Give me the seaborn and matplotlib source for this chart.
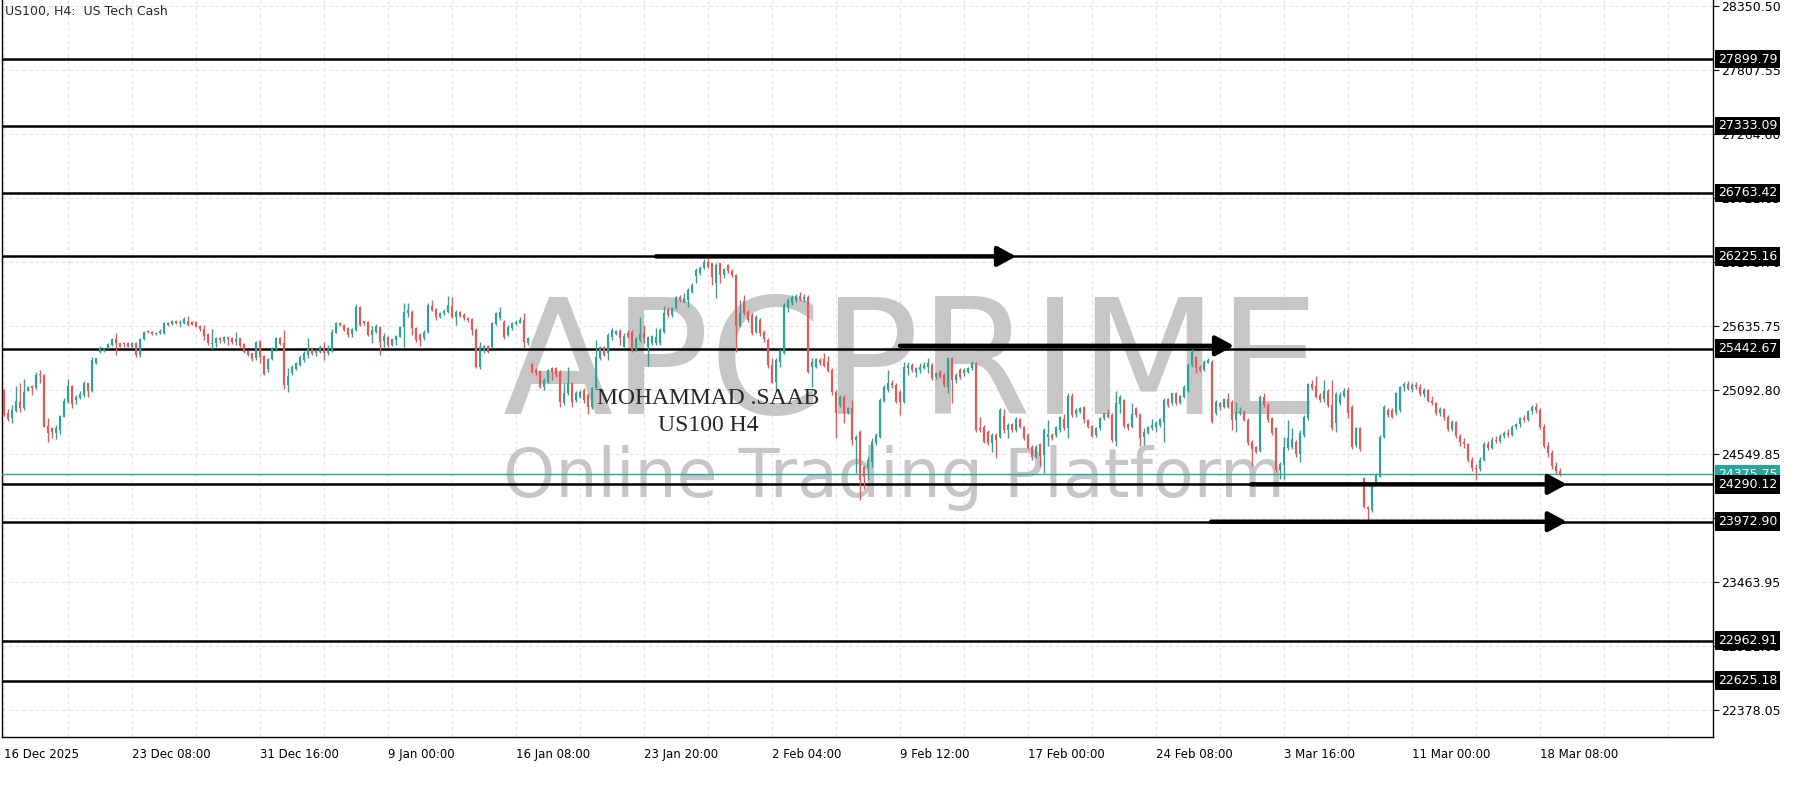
import numpy as np
import pandas as pd
import matplotlib.pyplot as plt
import seaborn as sns
from matplotlib.transforms import blended_transform_factory

## DATA (US100 H4 candles) ..........................................

opens = [
    25091, 24899, 24851, 24916, 24992, 24936, 25085, 25125, 25105, 25218,
    25218, 24786, 24766, 24729, 24752, 24865, 24992, 25125, 25006, 25020,
    25049, 25148, 25085, 25317, 25417, 25425, 25439, 25473, 25521, 25487,
    25482, 25493, 25459, 25493, 25388, 25521, 25586, 25583, 25566, 25572,
    25572, 25663, 25651, 25680, 25657, 25657, 25680, 25668, 25671, 25634,
    25606, 25564, 25479, 25487, 25535, 25510, 25544, 25535, 25496, 25530,
    25482, 25425, 25402, 25360, 25507, 25380, 25270, 25352, 25436, 25530,
    25493, 25134, 25238, 25267, 25303, 25346, 25388, 25436, 25408, 25417,
    25459, 25402, 25431, 25578, 25663, 25643, 25615, 25567, 25601, 25799,
    25677, 25671, 25558, 25586, 25629, 25507, 25544, 25473, 25516, 25544,
    25629, 25742, 25756, 25615, 25558, 25530, 25587, 25804, 25776, 25714,
    25742, 25756, 25804, 25714, 25756, 25728, 25705, 25691, 25601, 25290,
    25425, 25465, 25454, 25652, 25700, 25671, 25558, 25615, 25652, 25663,
    25686, 25493, 25312, 25261, 25256, 25120, 25162, 25275, 25275, 25247,
    24984, 25063, 25148, 25007, 25035, 25092, 25049, 24944, 25106, 25360,
    25453, 25402, 25543, 25566, 25594, 25459, 25577, 25586, 25430, 25515,
    25572, 25459, 25487, 25487, 25487, 25586, 25770, 25727, 25784, 25883,
    25841, 25855, 25925, 26058, 26081, 26123, 26180, 26166, 25996, 26166,
    26067, 26152, 26104, 26067, 25634, 25850, 25756, 25727, 25586, 25685,
    25586, 25515, 25303, 25162, 25331, 25408, 25798, 25832, 25855, 25889,
    25860, 25880, 25283, 25289, 25345, 25351, 25331, 25261, 25077, 24964,
    25034, 24898, 24935, 24666, 24737, 24440, 24426, 24483, 24638, 24695,
    25000, 25091, 25147, 25133, 25077, 24992, 25275, 25303, 25246, 25261,
    25275, 25289, 25303, 25204, 25246, 25218, 25119, 25360, 25176, 25260,
    25232, 25246, 25275, 25317, 24765, 24780, 24737, 24638, 24709, 24695,
    24870, 24751, 24802, 24751, 24842, 24780, 24709, 24610, 24519, 24633,
    24539, 24690, 24709, 24709, 24751, 24842, 24766, 25040, 24887, 24907,
    24944, 24836, 24785, 24709, 24766, 24850, 24893, 24879, 24661, 24972,
    25006, 24802, 24780, 24935, 24879, 24695, 24729, 24766, 24780, 24794,
    24822, 25012, 24978, 25063, 24983, 25029, 25085, 25303, 25368, 25289,
    25261, 25323, 25332, 24893, 24978, 24950, 25012, 24992, 24837, 24899,
    24907, 24837, 24653, 24605, 24576, 25035, 24964, 24851, 24766, 24412,
    24455, 24596, 24605, 24653, 24548, 24709, 24851, 25142, 25125, 25049,
    25012, 25086, 24964, 24808, 24978, 25040, 25091, 24950, 24625, 24766,
    24342, 24101, 24073, 24314, 24356, 24690, 24922, 24922, 24893, 24922,
    25114, 25140, 25100, 25135, 25120, 25060, 25090, 25000, 24980, 24900,
    24930, 24860, 24760, 24820, 24700, 24650, 24630, 24500, 24430, 24420,
    24500, 24630, 24600, 24670, 24660, 24700, 24730, 24710, 24780, 24800,
    24850, 24840, 24910, 24945, 24920, 24780, 24620, 24560, 24450, 24400,
]

highs = [
    25097, 24927, 24964, 25125, 25148, 25182, 25125, 25134, 25247, 25261,
    25227, 24851, 24780, 24794, 24879, 25020, 25182, 25134, 25049, 25085,
    25170, 25153, 25368, 25366, 25465, 25445, 25487, 25530, 25572, 25493,
    25501, 25501, 25501, 25501, 25530, 25595, 25600, 25592, 25583, 25606,
    25671, 25671, 25685, 25685, 25685, 25714, 25719, 25674, 25680, 25643,
    25643, 25572, 25606, 25544, 25544, 25550, 25550, 25544, 25586, 25535,
    25487, 25431, 25408, 25510, 25516, 25388, 25360, 25453, 25538, 25544,
    25601, 25275, 25303, 25332, 25388, 25422, 25535, 25445, 25436, 25473,
    25501, 25473, 25606, 25666, 25671, 25651, 25623, 25615, 25821, 25804,
    25680, 25677, 25634, 25649, 25634, 25572, 25550, 25530, 25558, 25634,
    25827, 25827, 25770, 25629, 25572, 25601, 25827, 25855, 25785, 25756,
    25776, 25889, 25884, 25770, 25765, 25742, 25714, 25700, 25615, 25502,
    25473, 25473, 25672, 25756, 25799, 25686, 25643, 25672, 25686, 25714,
    25742, 25544, 25324, 25275, 25261, 25191, 25267, 25290, 25290, 25261,
    25148, 25284, 25162, 25086, 25092, 25106, 25063, 25120, 25516, 25465,
    25464, 25572, 25614, 25600, 25606, 25572, 25600, 25600, 25544, 25713,
    25643, 25549, 25558, 25614, 25614, 25804, 25798, 25798, 25891, 25897,
    25911, 25954, 25996, 26123, 26143, 26200, 26208, 26172, 26166, 26172,
    26123, 26157, 26115, 26075, 25855, 25897, 25770, 25741, 25727, 25699,
    25600, 25529, 25360, 25360, 25436, 25826, 25869, 25897, 25906, 25925,
    25910, 25900, 25360, 25360, 25360, 25408, 25379, 25275, 25091, 25048,
    25048, 24949, 25006, 24709, 24751, 24454, 24525, 24681, 24723, 25020,
    25133, 25260, 25176, 25147, 25091, 25331, 25331, 25317, 25289, 25317,
    25331, 25360, 25317, 25246, 25260, 25232, 25374, 25374, 25238, 25275,
    25275, 25289, 25340, 25331, 24864, 24794, 24751, 24723, 24723, 24935,
    24927, 24808, 24814, 24859, 24850, 24785, 24723, 24624, 24624, 24644,
    24766, 24836, 24723, 24785, 24870, 24887, 25063, 25063, 24935, 24949,
    24955, 24842, 24794, 24780, 24865, 24899, 24927, 24893, 25085, 25048,
    25012, 24814, 24978, 24944, 24893, 24766, 24785, 24842, 24831, 24850,
    25020, 25020, 25068, 25077, 25048, 25133, 25317, 25436, 25379, 25303,
    25346, 25360, 25346, 25006, 24992, 25021, 25063, 25006, 24992, 24950,
    24920, 24851, 24667, 24616, 25049, 25063, 24978, 24865, 24780, 24483,
    24695, 24837, 24766, 24667, 24752, 24879, 25148, 25176, 25210, 25063,
    25176, 25097, 25176, 25077, 25077, 25105, 25114, 24964, 24780, 24780,
    24356, 24107, 24314, 24384, 24709, 24964, 24936, 24936, 25077, 25125,
    25160, 25170, 25150, 25160, 25140, 25110, 25100, 25040, 24990, 24950,
    24940, 24880, 24840, 24830, 24720, 24680, 24640, 24520, 24460, 24520,
    24650, 24660, 24690, 24700, 24720, 24740, 24760, 24790, 24810, 24860,
    24880, 24920, 24960, 24980, 24935, 24800, 24650, 24580, 24480, 24430,
]

lows = [
    24870, 24831, 24814, 24907, 24907, 24921, 25080, 25049, 25097, 25148,
    24774, 24653, 24681, 24673, 24718, 24859, 24984, 24936, 24972, 25012,
    25035, 25035, 25077, 25312, 25402, 25417, 25436, 25467, 25388, 25453,
    25459, 25453, 25445, 25374, 25374, 25516, 25572, 25558, 25561, 25564,
    25564, 25634, 25646, 25651, 25623, 25651, 25634, 25640, 25623, 25595,
    25516, 25473, 25436, 25459, 25487, 25487, 25473, 25482, 25473, 25459,
    25402, 25380, 25340, 25346, 25323, 25219, 25247, 25346, 25425, 25473,
    25097, 25077, 25219, 25261, 25295, 25332, 25360, 25388, 25380, 25402,
    25346, 25388, 25417, 25572, 25634, 25592, 25544, 25544, 25595, 25634,
    25643, 25552, 25493, 25572, 25388, 25459, 25459, 25465, 25473, 25538,
    25459, 25714, 25558, 25502, 25465, 25516, 25572, 25765, 25686, 25700,
    25728, 25742, 25700, 25643, 25714, 25686, 25671, 25558, 25275, 25267,
    25408, 25403, 25445, 25643, 25686, 25522, 25550, 25601, 25643, 25657,
    25445, 25473, 25239, 25219, 25106, 25092, 25154, 25176, 25205, 24944,
    24964, 25049, 24950, 24993, 25021, 24978, 24888, 24927, 25092, 25346,
    25379, 25345, 25515, 25558, 25473, 25453, 25529, 25416, 25425, 25501,
    25487, 25295, 25473, 25473, 25473, 25577, 25713, 25713, 25775, 25841,
    25832, 25798, 25911, 25996, 26067, 26115, 26123, 25982, 25869, 25996,
    26039, 26081, 26053, 25416, 25623, 25727, 25671, 25558, 25572, 25549,
    25501, 25275, 25147, 25085, 25289, 25396, 25756, 25812, 25841, 25849,
    25840, 25232, 25119, 25275, 25303, 25283, 25246, 25050, 24681, 24949,
    24814, 24887, 24624, 24383, 24160, 24250, 24327, 24440, 24624, 24681,
    24992, 25077, 25105, 24978, 24879, 24978, 25218, 25246, 25204, 25238,
    25266, 25232, 25176, 25181, 25190, 25119, 25062, 24978, 25147, 25181,
    25210, 25232, 25260, 24737, 24737, 24638, 24624, 24567, 24511, 24681,
    24723, 24681, 24737, 24737, 24766, 24667, 24587, 24497, 24511, 24446,
    24384, 24616, 24667, 24695, 24737, 24751, 24681, 24865, 24865, 24893,
    24814, 24766, 24695, 24689, 24751, 24836, 24850, 24652, 24616, 24893,
    24766, 24751, 24766, 24865, 24616, 24624, 24717, 24751, 24737, 24774,
    24652, 24949, 24964, 24964, 24972, 25020, 25077, 25289, 25232, 25246,
    25255, 25318, 24814, 24879, 24921, 24936, 24936, 24752, 24738, 24879,
    24825, 24625, 24446, 24560, 24568, 24950, 24823, 24709, 24398, 24333,
    24328, 24582, 24588, 24526, 24483, 24695, 24837, 25091, 25021, 24992,
    24992, 24950, 24752, 24738, 24964, 25029, 24851, 24588, 24605, 24577,
    24087, 23988, 24059, 24299, 24350, 24681, 24865, 24851, 24879, 24907,
    25080, 25090, 25070, 25100, 25040, 25030, 24990, 24960, 24880, 24870,
    24840, 24740, 24740, 24680, 24620, 24600, 24480, 24400, 24330, 24400,
    24490, 24580, 24590, 24640, 24640, 24680, 24690, 24700, 24760, 24780,
    24820, 24830, 24890, 24900, 24760, 24600, 24520, 24420, 24380, 24360,
]

closes = [
    24879, 24842, 24921, 24998, 24936, 25077, 25114, 25105, 25218, 25216,
    24780, 24729, 24738, 24766, 24870, 24998, 25125, 24972, 25035, 25057,
    25153, 25085, 25346, 25360, 25450, 25436, 25479, 25521, 25487, 25459,
    25479, 25459, 25487, 25388, 25521, 25586, 25583, 25566, 25578, 25595,
    25663, 25643, 25677, 25657, 25665, 25691, 25643, 25646, 25629, 25606,
    25550, 25487, 25493, 25535, 25516, 25544, 25521, 25496, 25524, 25465,
    25411, 25388, 25352, 25501, 25374, 25224, 25352, 25445, 25530, 25482,
    25134, 25210, 25284, 25318, 25374, 25408, 25436, 25397, 25425, 25459,
    25408, 25436, 25586, 25657, 25643, 25601, 25558, 25606, 25799, 25643,
    25657, 25558, 25601, 25634, 25501, 25550, 25473, 25521, 25550, 25629,
    25756, 25770, 25615, 25516, 25516, 25587, 25813, 25770, 25714, 25748,
    25765, 25813, 25714, 25756, 25720, 25700, 25686, 25601, 25290, 25454,
    25465, 25417, 25657, 25742, 25756, 25544, 25623, 25663, 25672, 25686,
    25502, 25530, 25247, 25233, 25120, 25176, 25261, 25247, 25219, 24993,
    25069, 25148, 24993, 25069, 25077, 25007, 24950, 25106, 25369, 25454,
    25388, 25558, 25600, 25594, 25529, 25549, 25538, 25430, 25521, 25566,
    25529, 25538, 25549, 25538, 25600, 25742, 25727, 25784, 25883, 25855,
    25869, 25940, 25982, 26109, 26123, 26180, 26138, 26053, 26152, 26067,
    26115, 26104, 26067, 25634, 25747, 25742, 25685, 25577, 25713, 25577,
    25521, 25303, 25153, 25345, 25425, 25812, 25855, 25877, 25889, 25860,
    25880, 25246, 25331, 25351, 25317, 25294, 25255, 25077, 24893, 25034,
    24898, 24935, 24666, 24695, 24327, 24355, 24497, 24652, 24709, 25006,
    25119, 25147, 25133, 24992, 24992, 25289, 25303, 25261, 25275, 25289,
    25303, 25317, 25190, 25232, 25204, 25133, 25360, 25176, 25218, 25204,
    25260, 25275, 25317, 24751, 24751, 24652, 24644, 24709, 24666, 24921,
    24751, 24794, 24751, 24842, 24780, 24681, 24596, 24519, 24610, 24531,
    24751, 24720, 24681, 24774, 24859, 24766, 25040, 24879, 24921, 24935,
    24842, 24780, 24700, 24766, 24850, 24893, 24865, 24667, 24978, 25029,
    24785, 24766, 24887, 24879, 24681, 24737, 24774, 24794, 24808, 24842,
    25006, 24964, 25063, 24978, 25040, 25119, 25303, 25416, 25275, 25261,
    25332, 25346, 24823, 24992, 24950, 25012, 24950, 24837, 24907, 24916,
    24837, 24639, 24588, 24568, 25035, 24964, 24837, 24724, 24412, 24463,
    24605, 24681, 24673, 24548, 24729, 24865, 25142, 25105, 25035, 25006,
    25086, 24964, 24766, 25057, 25049, 25086, 24893, 24605, 24766, 24588,
    24101, 24079, 24305, 24370, 24695, 24950, 24879, 24865, 25063, 25114,
    25140, 25100, 25135, 25120, 25060, 25090, 25000, 24980, 24900, 24930,
    24860, 24760, 24820, 24700, 24650, 24630, 24500, 24430, 24420, 24500,
    24630, 24600, 24670, 24660, 24700, 24730, 24710, 24780, 24800, 24850,
    24840, 24910, 24945, 24920, 24780, 24620, 24560, 24450, 24400, 24376,
]

levels = [27899.79, 27333.09, 26763.42, 26225.16, 25442.67, 24290.12, 23972.90, 22962.91, 22625.18]
last_price = 24375.75
price_ticks = [28350.50, 27807.55, 27264.60, 26721.65, 26178.70, 25635.75,
               25092.80, 24549.85, 24006.90, 23463.95, 22921.00, 22378.05]
time_labels = ["16 Dec 2025", "23 Dec 08:00", "31 Dec 16:00", "9 Jan 00:00", "16 Jan 08:00",
               "23 Jan 20:00", "2 Feb 04:00", "9 Feb 12:00", "17 Feb 00:00", "24 Feb 08:00",
               "3 Mar 16:00", "11 Mar 00:00", "18 Mar 08:00"]
bars_per_label = 32
# drawn arrows: start bar, end bar, price
arrow_start = [163, 224, 311.8, 301.8]
arrow_end = [253, 307.5, 390.7, 390.7]
arrow_price = [26225.16, 25466, 24290.12, 23972.90]

## PLOT ....................................................................................

sns.set_theme(style="white")
plt.rcParams['font.family'] = ['DejaVu Sans']

green, red = '#26a69a', '#ef5350'

df = pd.DataFrame({'open': opens, 'high': highs, 'low': lows, 'close': closes})
df['bar'] = np.arange(len(df))
col = np.where(df['close'] >= df['open'], green, red)

fig = plt.figure(figsize=(18, 8), dpi=100)
ax = fig.add_axes([2 / 1800, 63 / 800, 1711 / 1800, 737 / 800])
ax.set_facecolor('white')

# grid
for x in range(0, 430, bars_per_label // 2):
    ax.axvline(x, color='#e2e2e2', lw=0.8, ls=(0, (3, 3)), zorder=0)
for p in price_ticks:
    ax.axhline(p, color='#e2e2e2', lw=0.8, ls=(0, (3, 3)), zorder=0)

# watermark
ax.text(227, 24890, 'APCPRIME', fontsize=116, color='#c6c6c6',
        ha='center', va='baseline', zorder=1)
ax.text(222.5, 24183, 'Online Trading Platform', fontsize=48,
        color='#c6c6c6', ha='center', va='baseline', zorder=1)

# levels
for p in levels:
    ax.axhline(p, color='black', lw=1.8, zorder=3)
ax.axhline(last_price, color=green, lw=1, zorder=3)

# candles
ax.vlines(df['bar'], df['low'], df['high'], colors=col, linewidth=1, zorder=4)
body_lo = df[['open', 'close']].min(axis=1)
body_h = (df['close'] - df['open']).abs().clip(lower=8)
ax.bar(df['bar'], body_h, bottom=body_lo, width=0.72, color=col, linewidth=0, zorder=5)

# arrows
for x0, x1, p in zip(arrow_start, arrow_end, arrow_price):
    ax.annotate('', xy=(x1, p), xytext=(x0, p), zorder=6,
                arrowprops=dict(arrowstyle='-|>,head_length=0.55,head_width=0.3', lw=3.2,
                                color='black', mutation_scale=20, shrinkA=0, shrinkB=0))

# signature
ax.text(176, 25015, 'MOHAMMAD .SAAB', fontsize=17,
        family='Liberation Serif', ha='center', va='center', zorder=7)
ax.text(176, 24794, 'US100 H4', fontsize=17,
        family='Liberation Serif', ha='center', va='center', zorder=7)

# axes
ax.set_xlim(-0.5, 427.25)
ax.set_ylim(22145.8, 28401.4)
ax.yaxis.tick_right()
ax.set_yticks(price_ticks)
ax.set_yticklabels([f'{p:.2f}' for p in price_ticks])
ax.set_xticks(np.arange(len(time_labels)) * bars_per_label)
ax.set_xticklabels(time_labels, ha='left')
ax.tick_params(axis='y', length=4, width=0.8, pad=2, labelsize=9, colors='black', direction='out')
ax.tick_params(axis='x', length=5, width=0.8, pad=3, labelsize=8.5, colors='black', direction='out')
for s in ['left', 'bottom', 'right']:
    ax.spines[s].set_color('black')
    ax.spines[s].set_linewidth(1)
ax.spines['top'].set_visible(False)

# price labels on the right axis
trans = blended_transform_factory(fig.transFigure, ax.transData)
ax.text(1718 / 1800, last_price, f'{last_price:.2f}', transform=trans, color='white', fontsize=9,
        va='center', ha='left', clip_on=False, zorder=9,
        bbox=dict(boxstyle='square,pad=0.22', fc=green, ec='none'))
for p in levels:
    ax.text(1718 / 1800, p, f'{p:.2f}', transform=trans, color='white', fontsize=9,
            va='center', ha='left', clip_on=False, zorder=10,
            bbox=dict(boxstyle='square,pad=0.22', fc='black', ec='none'))

fig.text(5 / 1800, 1 - 12 / 800, 'US100, H4:  US Tech Cash', fontsize=9, va='center', ha='left')

fig.savefig('out.png', dpi=100)
